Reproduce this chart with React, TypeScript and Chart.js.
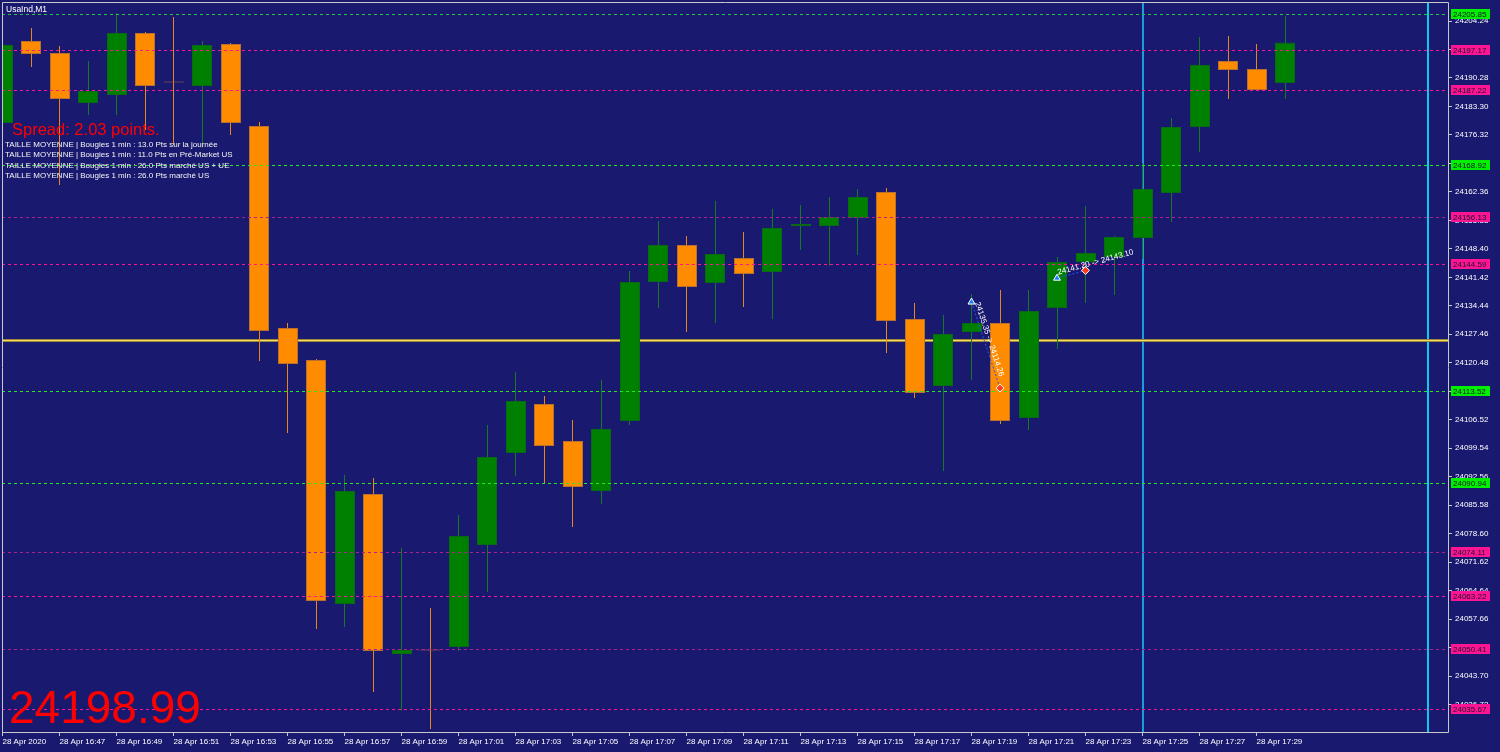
import React, { useEffect, useRef } from "react";
import { Chart, registerables } from "chart.js";

Chart.register(...registerables);

// ---------- texts ----------
const symbolTitle = "UsaInd,M1";
const spreadText = "Spread: 2.03 points.";
const infoLines = [
  "TAILLE MOYENNE | Bougies 1 min : 13.0 Pts sur la journée",
  "TAILLE MOYENNE | Bougies 1 min : 11.0 Pts en Pré-Market US",
  "TAILLE MOYENNE | Bougies 1 min : 26.0 Pts marché US + UE",
  "TAILLE MOYENNE | Bougies 1 min : 26.0 Pts marché US",
];
const lastPrice = "24198.99";

// ---------- candles (M1) ----------
const categories = [
  "16:45", "16:46", "16:47", "16:48", "16:49", "16:50", "16:51", "16:52", "16:53", "16:54",
  "16:55", "16:56", "16:57", "16:58", "16:59", "17:00", "17:01", "17:02", "17:03", "17:04",
  "17:05", "17:06", "17:07", "17:08", "17:09", "17:10", "17:11", "17:12", "17:13", "17:14",
  "17:15", "17:16", "17:17", "17:18", "17:19", "17:20", "17:21", "17:22", "17:23", "17:24",
  "17:25", "17:26", "17:27", "17:28", "17:29", "17:30",
];
const opens = [
  24179.24, 24199.34, 24196.40, 24184.14, 24186.10, 24201.30, 24189.41, 24188.31, 24198.60, 24178.50,
  24128.99, 24121.15, 24061.35, 24088.31, 24049.09, 24050.19, 24050.81, 24075.81, 24098.36, 24110.37,
  24101.30, 24089.04, 24106.20, 24140.27, 24149.34, 24140.02, 24146.15, 24142.72, 24153.99, 24153.99,
  24155.96, 24162.33, 24131.20, 24114.78, 24128.01, 24130.22, 24106.94, 24133.90, 24145.17, 24146.40,
  24151.05, 24162.08, 24178.26, 24194.44, 24192.48, 24189.04,
];
const highs = [
  24198.60, 24202.52, 24198.11, 24194.44, 24206.20, 24201.54, 24205.22, 24199.34, 24198.85, 24179.48,
  24130.22, 24121.40, 24092.96, 24092.23, 24075.07, 24060.37, 24083.16, 24105.22, 24118.21, 24112.33,
  24106.45, 24116.25, 24142.96, 24155.22, 24151.54, 24160.12, 24152.52, 24158.16, 24159.14, 24161.10,
  24163.06, 24163.31, 24135.12, 24132.18, 24137.33, 24138.31, 24138.31, 24146.40, 24158.90, 24151.54,
  24169.44, 24180.47, 24200.32, 24200.56, 24198.60, 24205.47,
];
const lows = [
  24178.99, 24192.97, 24164.04, 24181.20, 24181.20, 24177.52, 24173.85, 24173.11, 24176.30, 24120.91,
  24103.26, 24055.22, 24055.71, 24039.78, 24035.12, 24030.71, 24049.83, 24064.29, 24092.72, 24091.00,
  24080.22, 24085.86, 24105.22, 24133.90, 24128.01, 24130.22, 24134.14, 24131.20, 24148.11, 24144.19,
  24146.89, 24122.87, 24111.84, 24093.94, 24116.25, 24105.46, 24103.99, 24123.85, 24135.12, 24137.08,
  24145.91, 24154.97, 24172.13, 24185.12, 24187.33, 24185.12,
];
const closes = [
  24198.36, 24196.15, 24185.12, 24187.08, 24201.30, 24188.31, 24189.17, 24198.36, 24179.24, 24128.26,
  24120.17, 24062.08, 24089.04, 24049.83, 24050.07, 24049.95, 24078.01, 24097.38, 24111.10, 24100.07,
  24090.02, 24104.24, 24140.27, 24149.34, 24139.04, 24147.13, 24142.23, 24153.50, 24154.48, 24156.20,
  24161.10, 24130.71, 24113.06, 24127.52, 24130.22, 24106.20, 24133.16, 24145.17, 24147.38, 24151.30,
  24163.06, 24178.26, 24193.46, 24192.23, 24187.33, 24198.99,
];

// ---------- axes ----------
const xTickTimes = [
  "16:45", "16:47", "16:49", "16:51", "16:53", "16:55", "16:57", "16:59", "17:01", "17:03", "17:05", "17:07",
  "17:09", "17:11", "17:13", "17:15", "17:17", "17:19", "17:21", "17:23", "17:25", "17:27", "17:29",
];
const xTickLabels = [
  "28 Apr 2020", "28 Apr 16:47", "28 Apr 16:49", "28 Apr 16:51", "28 Apr 16:53", "28 Apr 16:55",
  "28 Apr 16:57", "28 Apr 16:59", "28 Apr 17:01", "28 Apr 17:03", "28 Apr 17:05", "28 Apr 17:07",
  "28 Apr 17:09", "28 Apr 17:11", "28 Apr 17:13", "28 Apr 17:15", "28 Apr 17:17", "28 Apr 17:19",
  "28 Apr 17:21", "28 Apr 17:23", "28 Apr 17:25", "28 Apr 17:27", "28 Apr 17:29",
];
const yTicks = [
  24204.24, 24197.26, 24190.28, 24183.30, 24176.32, 24169.34, 24162.36, 24155.38, 24148.40, 24141.42,
  24134.44, 24127.46, 24120.48, 24113.50, 24106.52, 24099.54, 24092.56, 24085.58, 24078.60, 24071.62,
  24064.64, 24057.66, 24050.68, 24043.70, 24036.72,
];

// ---------- objects ----------
const greenLevels = [24205.85, 24168.92, 24113.52, 24090.94];
const pinkLevels = [24197.17, 24187.22, 24144.59, 24063.22, 24035.67];
const violetLevels = [24156.13, 24074.11, 24050.41];
const priceLine = 24126.05;
const verticalMarks = ["17:25", "17:35"];

const tradeOpenTimes = ["17:19", "17:22"];
const tradeCloseTimes = ["17:20", "17:23"];
const tradeOpenPrices = [24135.35, 24141.2];
const tradeClosePrices = [24114.26, 24143.1];

// ---------- style ----------
const FONT = "'Liberation Sans', Arial, sans-serif";
const BG = "#191970";
const BULL = "#008000";
const BEAR = "#ff8c00";
const X_MIN = -0.5 / 28.5;
const X_MAX = X_MIN + 1446 / 28.5;

function minuteIndex(t: string): number {
  const [h, m] = t.split(":").map(Number);
  return h * 60 + m - (16 * 60 + 45);
}

export default function App() {
  const ref = useRef<HTMLCanvasElement | null>(null);

  useEffect(() => {
    const canvas = ref.current;
    if (!canvas) return;

    const xs = categories.map(minuteIndex);
    const isBull = (i: number) => closes[i] >= opens[i];
    const pick = (parity: number) => categories.map((_, i) => i).filter((i) => i % 2 === parity);

    const bodySet = (parity: number, shift: boolean) => {
      const ids = pick(parity);
      return {
        label: "bodies" + parity,
        shiftHalf: shift,
        data: ids.map((i) => ({ x: xs[i], y: [opens[i], closes[i]] })),
        order: 1,
        backgroundColor: ids.map((i) => (isBull(i) ? BULL : BEAR)),
        borderColor: ids.map((i) => (isBull(i) ? "#0a6a14" : "#b8702c")),
        borderWidth: 1,
        borderSkipped: false,
        grouped: false,
        barPercentage: 1,
        categoryPercentage: 1,
        maxBarThickness: 20,
        inflateAmount: 0,
      } as any;
    };
    const wickSet = (parity: number, shift: boolean) => {
      const ids = pick(parity);
      return {
        label: "wicks" + parity,
        shiftHalf: shift,
        data: ids.map((i) => ({ x: xs[i], y: [lows[i], highs[i]] })),
        order: 2,
        backgroundColor: ids.map((i) => (isBull(i) ? "#137a24" : "#e8861e")),
        borderWidth: 0,
        grouped: false,
        barPercentage: 1,
        categoryPercentage: 1,
        maxBarThickness: 1,
        inflateAmount: 0,
      } as any;
    };

    const tradePoints: any[] = [];
    const tradeStyles: string[] = [];
    const tradeColors: string[] = [];
    tradeOpenTimes.forEach((t, k) => {
      if (k > 0) {
        tradePoints.push({ x: minuteIndex(t) - 0.5, y: null });
        tradeStyles.push("circle");
        tradeColors.push("#000");
      }
      tradePoints.push({ x: minuteIndex(t), y: tradeOpenPrices[k] });
      tradeStyles.push("triangle");
      tradeColors.push("#1e7bff");
      tradePoints.push({ x: minuteIndex(tradeCloseTimes[k]), y: tradeClosePrices[k] });
      tradeStyles.push("rectRot");
      tradeColors.push("#ff3b1a");
    });

    const drawLevels = (chart: any) => {
      const { ctx, chartArea: a } = chart;
      const y = chart.scales.y;
      ctx.save();
      ctx.beginPath();
      ctx.rect(a.left, a.top, a.right - a.left, a.bottom - a.top);
      ctx.clip();
      ctx.lineWidth = 1;
      ctx.setLineDash([3, 3]);
      const line = (v: number, color: string) => {
        const py = Math.round(y.getPixelForValue(v)) + 0.5;
        ctx.strokeStyle = color;
        ctx.beginPath();
        ctx.moveTo(a.left, py);
        ctx.lineTo(a.right, py);
        ctx.stroke();
      };
      greenLevels.forEach((v, k) => line(v, k === 0 ? "#22c844" : "#22ea22"));
      pinkLevels.forEach((v) => line(v, "#ff1493"));
      violetLevels.forEach((v) => line(v, "#b0208a"));
      ctx.restore();
    };

    const bgPlugin = {
      id: "bgFill",
      beforeDraw(chart: any) {
        const c = chart.ctx;
        c.save();
        c.fillStyle = BG;
        c.fillRect(0, 0, chart.width, chart.height);
        c.restore();
      },
    };

    const layerPlugin = {
      id: "layers",
      beforeDatasetsDraw(chart: any) {
        const { ctx, chartArea: a } = chart;
        const x = chart.scales.x;
        const y = chart.scales.y;
        ctx.save();
        ctx.beginPath();
        ctx.rect(a.left, a.top, a.right - a.left, a.bottom - a.top);
        ctx.clip();
        verticalMarks.forEach((t, k) => {
          const px = Math.round(x.getPixelForValue(minuteIndex(t)));
          ctx.strokeStyle = k === 0 ? "#1f9ade" : "#10c8ee";
          ctx.lineWidth = 2;
          ctx.beginPath();
          ctx.moveTo(px, a.top);
          ctx.lineTo(px, a.bottom);
          ctx.stroke();
        });
        const py = Math.round(y.getPixelForValue(priceLine)) + 0.5;
        ctx.strokeStyle = "#7d6c34";
        ctx.lineWidth = 3;
        ctx.beginPath();
        ctx.moveTo(a.left, py);
        ctx.lineTo(a.right, py);
        ctx.stroke();
        ctx.strokeStyle = "#f6dc5a";
        ctx.lineWidth = 1.6;
        ctx.beginPath();
        ctx.moveTo(a.left, py);
        ctx.lineTo(a.right, py);
        ctx.stroke();
        ctx.restore();
      },
      beforeDatasetDraw(chart: any, args: any) {
        if (args.index === 0) drawLevels(chart);
        const ds = chart.data.datasets[args.index];
        if (ds && ds.shiftHalf) {
          chart.ctx.save();
          chart.ctx.translate(0.5, 0);
        }
      },
      afterDatasetDraw(chart: any, args: any) {
        const ds = chart.data.datasets[args.index];
        if (ds && ds.shiftHalf) chart.ctx.restore();
      },
      afterDraw(chart: any) {
        const { ctx, chartArea: a } = chart;
        const x = chart.scales.x;
        const y = chart.scales.y;
        ctx.save();
        // frame
        ctx.strokeStyle = "#c8c8c8";
        ctx.lineWidth = 1;
        ctx.beginPath();
        ctx.moveTo(a.left + 0.5, a.top + 0.5);
        ctx.lineTo(a.right + 0.5, a.top + 0.5);
        ctx.lineTo(a.right + 0.5, a.bottom + 0.5);
        ctx.lineTo(a.left + 0.5, a.bottom + 0.5);
        ctx.closePath();
        ctx.stroke();

        // price labels on the axis
        const box = (v: number, color: string) => {
          const py = Math.round(y.getPixelForValue(v));
          ctx.fillStyle = color;
          ctx.fillRect(a.right + 3, py - 5, 39, 10);
          ctx.fillStyle = "#14142a";
          ctx.font = `8px ${FONT}`;
          ctx.textAlign = "left";
          ctx.textBaseline = "middle";
          ctx.fillText(v.toFixed(2), a.right + 5, py + 0.5);
        };
        greenLevels.forEach((v) => box(v, "#00f000"));
        pinkLevels.forEach((v) => box(v, "#ff1493"));
        violetLevels.forEach((v) => box(v, "#ff1493"));

        // trade texts
        ctx.fillStyle = "#ffffff";
        ctx.font = `8px ${FONT}`;
        ctx.textAlign = "left";
        ctx.textBaseline = "alphabetic";
        tradeOpenTimes.forEach((t, k) => {
          const x0 = x.getPixelForValue(minuteIndex(t));
          const y0 = y.getPixelForValue(tradeOpenPrices[k]);
          const x1 = x.getPixelForValue(minuteIndex(tradeCloseTimes[k]));
          const y1 = y.getPixelForValue(tradeClosePrices[k]);
          const ang = Math.atan2(y1 - y0, x1 - x0);
          ctx.save();
          ctx.translate(x0, y0);
          ctx.rotate(ang);
          ctx.fillText(`${tradeOpenPrices[k].toFixed(2)} -> ${tradeClosePrices[k].toFixed(2)}`, 2, -3);
          ctx.restore();
        });

        // corner texts
        ctx.textBaseline = "alphabetic";
        ctx.fillStyle = "#ffffff";
        ctx.font = `8.5px ${FONT}`;
        ctx.fillText(symbolTitle, 6, 12);
        ctx.fillStyle = "#ff0000";
        ctx.font = `16.5px ${FONT}`;
        ctx.fillText(spreadText, 12, 134.5);
        ctx.fillStyle = "#f4f4f4";
        ctx.font = `8px ${FONT}`;
        infoLines.forEach((s, k) => ctx.fillText(s, 5, 146.5 + k * 10.6));
        ctx.fillStyle = "#ff0000";
        ctx.font = `46px ${FONT}`;
        ctx.fillText(lastPrice, 9, 723);
        ctx.restore();
      },
    };

    const zeroPad = (s: any) => {
      s.paddingTop = 0;
      s.paddingBottom = 0;
      s.paddingLeft = 0;
      s.paddingRight = 0;
    };

    const chart = new Chart(canvas, {
      type: "bar",
      data: {
        datasets: [
          {
            type: "line",
            label: "trades",
            data: tradePoints,
            order: 0,
            borderColor: "#2a55ff",
            borderWidth: 1,
            borderDash: [2, 2],
            pointStyle: tradeStyles as any,
            pointRadius: 4,
            pointBackgroundColor: tradeColors,
            pointBorderColor: "#ffffff",
            pointBorderWidth: 1,
            spanGaps: false,
            fill: false,
          } as any,
          bodySet(0, true),
          bodySet(1, false),
          wickSet(0, false),
          wickSet(1, true),
        ],
      },
      options: {
        responsive: false,
        animation: false,
        devicePixelRatio: 1,
        layout: { autoPadding: false, padding: { left: 2, top: 2, right: 0, bottom: 0 } },
        plugins: { legend: { display: false }, tooltip: { enabled: false } },
        scales: {
          x: {
            type: "linear",
            position: "bottom",
            min: X_MIN,
            max: X_MAX,
            offset: false,
            afterFit: (s: any) => {
              s.height = 20;
              zeroPad(s);
            },
            afterBuildTicks: (s: any) => {
              s.ticks = xTickTimes.map((t) => ({ value: minuteIndex(t) }));
            },
            grid: { display: true, drawOnChartArea: false, drawTicks: true, tickLength: 4, color: "#c8c8c8", offset: false },
            border: { display: false },
            ticks: {
              autoSkip: false,
              maxRotation: 0,
              minRotation: 0,
              align: "start",
              padding: 1,
              color: "#ffffff",
              font: { family: FONT, size: 8 },
              callback: (_v: any, i: number) => xTickLabels[i],
            },
          } as any,
          y: {
            type: "linear",
            position: "right",
            min: 24029.975,
            max: 24208.897,
            afterFit: (s: any) => {
              s.width = 52;
              zeroPad(s);
            },
            afterBuildTicks: (s: any) => {
              s.ticks = yTicks.map((v) => ({ value: v }));
            },
            grid: { display: true, drawOnChartArea: false, drawTicks: true, tickLength: 4, color: "#c8c8c8" },
            border: { display: false },
            ticks: {
              autoSkip: false,
              padding: 3,
              color: "#ffffff",
              font: { family: FONT, size: 8 },
              callback: (v: any) => Number(v).toFixed(2),
            },
          } as any,
        },
      },
      plugins: [bgPlugin, layerPlugin],
    });

    return () => chart.destroy();
  }, []);

  return (
    <div style={{ position: "absolute", left: 0, top: 0, width: 1500, height: 752, background: BG }}>
      <canvas ref={ref} width={1500} height={752} style={{ display: "block", width: 1500, height: 752 }} />
    </div>
  );
}
